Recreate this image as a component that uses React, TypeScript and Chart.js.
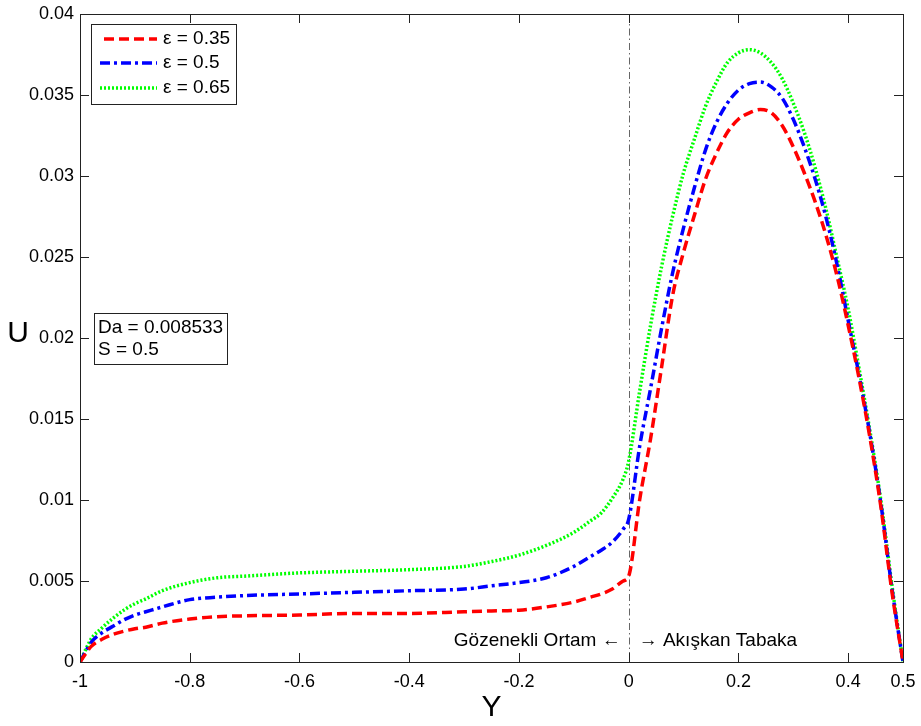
import React, { useEffect, useRef } from "react";
import { Chart, registerables } from "chart.js";

Chart.register(...registerables);

const Y_POINTS = [
  -1, -0.98, -0.96, -0.94, -0.92, -0.9, -0.88, -0.85, -0.8, -0.75, -0.7, -0.6, -0.5, -0.4, -0.3, -0.25,
  -0.2, -0.15, -0.1, -0.07, -0.05, -0.03, -0.01, 0,
  0.02, 0.04, 0.06, 0.08, 0.1, 0.12, 0.14, 0.16, 0.18, 0.2, 0.22, 0.24, 0.26, 0.28, 0.3, 0.32, 0.34,
  0.36, 0.38, 0.4, 0.42, 0.44, 0.46, 0.48, 0.5,
];

const U_EPS_035 = [
  0, 0.00095, 0.0014, 0.0017, 0.0019, 0.00205, 0.00215, 0.0024, 0.00265, 0.0028, 0.00285, 0.0029, 0.003,
  0.003, 0.0031, 0.00315, 0.0032, 0.0034, 0.0037, 0.004, 0.0042, 0.0045, 0.005, 0.0053,
  0.01, 0.0138, 0.0182, 0.0226, 0.0253, 0.0276, 0.0298, 0.0314, 0.0327, 0.0335, 0.0339, 0.0341, 0.0339,
  0.0331, 0.0318, 0.0302, 0.0284, 0.0263, 0.0238, 0.0208, 0.0175, 0.0138, 0.0095, 0.0043, 0,
];

const U_EPS_05 = [
  0, 0.0012, 0.0018, 0.0022, 0.0026, 0.0029, 0.0031, 0.0034, 0.00385, 0.004, 0.0041, 0.0042, 0.0043,
  0.0044, 0.0045, 0.0047, 0.0049, 0.0052, 0.0059, 0.0065, 0.0069, 0.0074, 0.0082, 0.0088,
  0.0133, 0.0169, 0.0206, 0.024, 0.0268, 0.0293, 0.0316, 0.0333, 0.0345, 0.0353, 0.0357, 0.0358, 0.0355,
  0.0348, 0.0335, 0.0318, 0.0298, 0.0274, 0.0245, 0.0211, 0.0177, 0.014, 0.0097, 0.0045, 0,
];

const U_EPS_065 = [
  0, 0.0014, 0.0021, 0.0027, 0.0032, 0.0036, 0.0039, 0.0044, 0.0049, 0.0052, 0.0053, 0.0055, 0.0056,
  0.0057, 0.0059, 0.0062, 0.0066, 0.0072, 0.008, 0.0087, 0.0092, 0.0101, 0.0113, 0.0124,
  0.0167, 0.0208, 0.0244, 0.0275, 0.0302, 0.0323, 0.0343, 0.0358, 0.037, 0.0376, 0.0378, 0.0376, 0.037,
  0.036, 0.0345, 0.0327, 0.0305, 0.0279, 0.0249, 0.0218, 0.0181, 0.0142, 0.0099, 0.0047, 0,
];

const SERIES_LABELS = ["\u03b5 = 0.35", "\u03b5 = 0.5", "\u03b5 = 0.65"];
const X_TICKS = [-1, -0.8, -0.6, -0.4, -0.2, 0, 0.2, 0.4, 0.5];
const X_TICK_LABELS = ["-1", "-0.8", "-0.6", "-0.4", "-0.2", "0", "0.2", "0.4", "0.5"];
const Y_TICKS = [0, 0.005, 0.01, 0.015, 0.02, 0.025, 0.03, 0.035, 0.04];
const Y_TICK_LABELS = ["0", "0.005", "0.01", "0.015", "0.02", "0.025", "0.03", "0.035", "0.04"];
const INFO_LINES = ["Da = 0.008533", "S = 0.5"];
const DIVIDER_Y = 0;
const LEFT_REGION = "G\u00f6zenekli Ortam \u2190";
const RIGHT_REGION = "\u2192 Ak\u0131\u015fkan Tabaka";

const FONT = "'Liberation Sans', Arial, Helvetica, sans-serif";
const COLORS = ["#ff0000", "#0000ff", "#00ff00"];
const DASHES = [[10, 5], [10, 4, 3, 4], [2, 2]];
const WIDTHS = [3.5, 3.5, 3.5];

const decor = {
  id: "decor",
  beforeDatasetsDraw(chart: any) {
    const ctx = chart.ctx;
    const { top, bottom } = chart.chartArea;
    const x0 = chart.scales.x.getPixelForValue(DIVIDER_Y);
    ctx.save();
    ctx.strokeStyle = "#666";
    ctx.lineWidth = 1;
    ctx.setLineDash([7, 3, 1.5, 3]);
    ctx.beginPath();
    ctx.moveTo(Math.round(x0) + 0.5, top);
    ctx.lineTo(Math.round(x0) + 0.5, bottom);
    ctx.stroke();
    ctx.restore();
  },
  afterDraw(chart: any) {
    const ctx = chart.ctx;
    const { left, right, top, bottom } = chart.chartArea;
    const xs = chart.scales.x;
    const ys = chart.scales.y;
    ctx.save();
    ctx.setLineDash([]);
    ctx.strokeStyle = "#222";
    ctx.lineWidth = 1;
    ctx.strokeRect(Math.round(left) + 0.5, Math.round(top) + 0.5, Math.round(right - left), Math.round(bottom - top));
    const tl = 9;
    ctx.beginPath();
    X_TICKS.forEach((v) => {
      const px = Math.round(xs.getPixelForValue(v)) + 0.5;
      ctx.moveTo(px, bottom);
      ctx.lineTo(px, bottom - tl);
      ctx.moveTo(px, top);
      ctx.lineTo(px, top + tl);
    });
    Y_TICKS.forEach((v) => {
      const py = Math.round(ys.getPixelForValue(v)) + 0.5;
      ctx.moveTo(left, py);
      ctx.lineTo(left + tl, py);
      ctx.moveTo(right, py);
      ctx.lineTo(right - tl, py);
    });
    ctx.stroke();

    // axis titles
    ctx.fillStyle = "#000";
    ctx.font = `30px ${FONT}`;
    ctx.textAlign = "center";
    ctx.textBaseline = "middle";
    ctx.fillText("Y", (left + right) / 2, 708);
    ctx.fillText("U", 18, 334);

    // region labels
    ctx.font = `19px ${FONT}`;
    const x0 = xs.getPixelForValue(DIVIDER_Y);
    ctx.textAlign = "right";
    ctx.fillText(LEFT_REGION, x0 - 8, 641);
    ctx.textAlign = "left";
    ctx.fillText(RIGHT_REGION, x0 + 10, 641);

    // legend
    ctx.fillStyle = "#fff";
    ctx.fillRect(91, 24, 146, 80);
    ctx.strokeStyle = "#222";
    ctx.strokeRect(91.5, 24.5, 145, 80);
    const rows = [39, 63, 88];
    ctx.font = `19px ${FONT}`;
    ctx.textAlign = "left";
    ctx.textBaseline = "middle";
    rows.forEach((ry, i) => {
      ctx.strokeStyle = COLORS[i];
      ctx.lineWidth = WIDTHS[i];
      ctx.setLineDash(DASHES[i]);
      ctx.beginPath();
      ctx.moveTo(i === 0 ? 104 : 100, ry);
      ctx.lineTo(157, ry);
      ctx.stroke();
      ctx.fillStyle = "#000";
      ctx.fillText(SERIES_LABELS[i], 163, ry);
    });

    // info box
    ctx.setLineDash([]);
    ctx.lineWidth = 1;
    ctx.fillStyle = "#fff";
    ctx.fillRect(94, 313, 134, 51);
    ctx.strokeStyle = "#222";
    ctx.strokeRect(94.5, 313.5, 133, 51);
    ctx.fillStyle = "#000";
    ctx.font = `19px ${FONT}`;
    ctx.fillText(INFO_LINES[0], 98, 328);
    ctx.fillText(INFO_LINES[1], 98, 350);
    ctx.restore();
  },
};

export default function App() {
  const ref = useRef<HTMLCanvasElement>(null);
  useEffect(() => {
    document.body.style.margin = "0";
    const seriesValues = [U_EPS_035, U_EPS_05, U_EPS_065];
    const chart = new Chart(ref.current as HTMLCanvasElement, {
      type: "line",
      data: {
        datasets: seriesValues.map((vals, i) => ({
          label: SERIES_LABELS[i],
          data: Y_POINTS.map((y, j) => ({ x: y, y: vals[j] })),
          borderColor: COLORS[i],
          borderWidth: WIDTHS[i],
          borderDash: DASHES[i],
          pointRadius: 0,
          fill: false,
          cubicInterpolationMode: "monotone",
        })),
      },
      options: {
        animation: false,
        responsive: false,
        layout: { padding: { left: 0, top: 14, right: 18, bottom: 0 } },
        plugins: { legend: { display: false }, tooltip: { enabled: false } },
        scales: {
          x: {
            type: "linear",
            min: -1,
            max: 0.5,
            grid: { display: false, drawTicks: false },
            border: { display: false },
            afterBuildTicks: (s: any) => {
              s.ticks = X_TICKS.map((v) => ({ value: v }));
            },
            afterFit: (s: any) => {
              s.height = 64;
              s.paddingLeft = 0;
              s.paddingRight = 0;
            },
            ticks: {
              autoSkip: false,
              maxRotation: 0,
              padding: 9,
              color: "#000",
              font: { family: FONT, size: 18 },
              callback: (v: any) => {
                const i = X_TICKS.findIndex((t) => Math.abs(t - v) < 1e-9);
                return i >= 0 ? X_TICK_LABELS[i] : "";
              },
            },
          },
          y: {
            type: "linear",
            min: 0,
            max: 0.04,
            grid: { display: false, drawTicks: false },
            border: { display: false },
            afterBuildTicks: (s: any) => {
              s.ticks = Y_TICKS.map((v) => ({ value: v }));
            },
            afterFit: (s: any) => {
              s.width = 80;
              s.paddingTop = 0;
              s.paddingBottom = 0;
            },
            ticks: {
              autoSkip: false,
              padding: 6,
              color: "#000",
              font: { family: FONT, size: 18 },
              callback: (v: any) => {
                const i = Y_TICKS.findIndex((t) => Math.abs(t - v) < 1e-9);
                return i >= 0 ? Y_TICK_LABELS[i] : "";
              },
            },
          },
        },
      },
      plugins: [decor],
    } as any);
    return () => chart.destroy();
  }, []);
  return (
    <div style={{ position: "absolute", left: 0, top: 0, width: 921, height: 726, background: "#fff" }}>
      <canvas ref={ref} width={921} height={726} style={{ display: "block" }} />
    </div>
  );
}
